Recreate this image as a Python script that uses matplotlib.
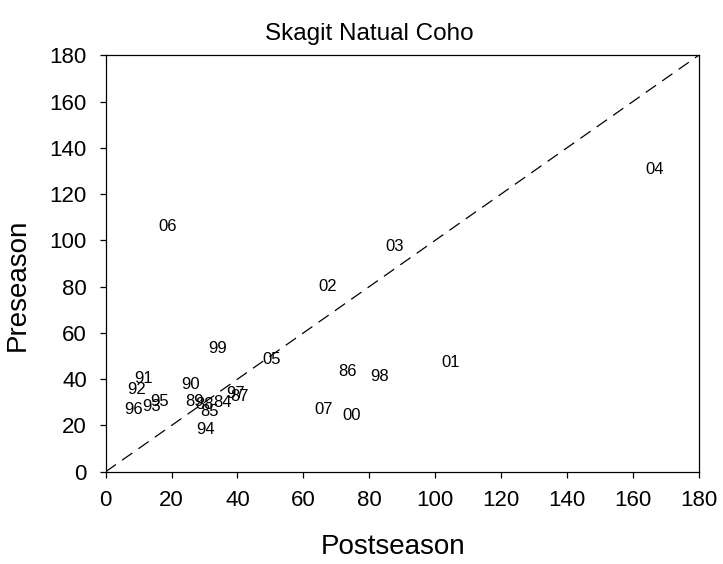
import matplotlib
matplotlib.use("Agg")
import matplotlib.pyplot as plt

plt.rcParams['font.family'] = ['Liberation Sans', 'DejaVu Sans']

years = ["84", "85", "86", "87", "88", "89", "90", "91", "92", "93", "94", "95",
         "96", "97", "98", "99", "00", "01", "02", "03", "04", "05", "06", "07"]
postseason = [35.5, 31.5, 73.3, 40.6, 30.1, 27.1, 25.9, 11.6, 9.4, 13.8, 30.4, 16.2,
              8.4, 39.3, 83.1, 34.0, 74.5, 104.7, 67.5, 87.7, 166.5, 50.4, 18.8, 66.1]
preseason = [29.7, 25.9, 43.2, 32.4, 29.2, 30.2, 37.5, 40.3, 35.7, 28.1, 18.4, 30.2,
             27.0, 33.9, 41.0, 53.3, 24.5, 47.1, 79.9, 97.5, 130.8, 48.3, 106.1, 26.7]

ticks = [0, 20, 40, 60, 80, 100, 120, 140, 160, 180]
limits = [0, 180]

fig = plt.figure(figsize=(7.23, 5.64), dpi=100)
ax = fig.add_axes([105.7 / 723, 1 - 471.7 / 564, (698.7 - 105.7) / 723, (471.7 - 55.3) / 564])

ax.plot(limits, limits, color='black', lw=0.9, linestyle=(0, (10, 6)))

for lab, x, y in zip(years, postseason, preseason):
    ax.text(x, y, lab, ha='center', va='center', fontsize=12, color='black')

ax.set_xlim(limits)
ax.set_ylim(limits)
ax.set_xticks(ticks)
ax.set_yticks(ticks)
ax.tick_params(axis='both', direction='out', length=4.5, width=0.9, labelsize=16,
               pad=9, top=False, right=False)
for s in ax.spines.values():
    s.set_linewidth(0.9)
    s.set_color('black')

fig.text(369 / 723, 1 - 34 / 564, "Skagit Natual Coho", ha='center', va='center', fontsize=17.5)
fig.text(393 / 723, 1 - 547 / 564, "Postseason", ha='center', va='center', fontsize=20)
fig.text(18 / 723, 1 - 285 / 564, "Preseason", ha='center', va='center', fontsize=20, rotation=90)

fig.savefig("out.png", dpi=100)
